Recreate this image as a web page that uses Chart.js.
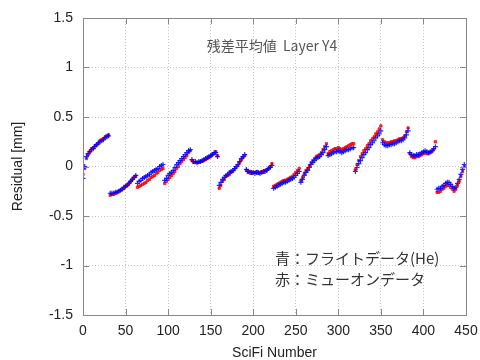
<!DOCTYPE html>
<html lang="ja">
<head>
<meta charset="UTF-8">
<title>残差平均値 Layer Y4</title>
<script src="https://cdn.jsdelivr.net/npm/chart.js"></script>
<style>
  html, body { margin: 0; padding: 0; background: #fff; }
  #wrap { width: 480px; height: 360px; }
</style>
</head>
<body>
<div id="wrap"><canvas id="residualChart" width="480" height="360"></canvas></div>
<script>
// SciFi numbers (every second fibre)
const sciFi = [
  0, 2, 4, 6, 8, 10, 12, 14, 16, 18, 20, 22, 24, 26, 28, 30,
  32, 34, 36, 38, 40, 42, 44, 46, 48, 50, 52, 54, 56, 58, 60, 62,
  64, 66, 68, 70, 72, 74, 76, 78, 80, 82, 84, 86, 88, 90, 92, 94,
  96, 98, 100, 102, 104, 106, 108, 110, 112, 114, 116, 118, 120, 122, 124, 126,
  128, 130, 132, 134, 136, 138, 140, 142, 144, 146, 148, 150, 152, 154, 156, 158,
  160, 162, 164, 166, 168, 170, 172, 174, 176, 178, 180, 182, 184, 186, 188, 190,
  192, 194, 196, 198, 200, 202, 204, 206, 208, 210, 212, 214, 216, 218, 220, 222,
  224, 226, 228, 230, 232, 234, 236, 238, 240, 242, 244, 246, 248, 250, 252, 254,
  256, 258, 260, 262, 264, 266, 268, 270, 272, 274, 276, 278, 280, 282, 284, 286,
  288, 290, 292, 294, 296, 298, 300, 302, 304, 306, 308, 310, 312, 314, 316, 318,
  320, 322, 324, 326, 328, 330, 332, 334, 336, 338, 340, 342, 344, 346, 348, 350,
  352, 354, 356, 358, 360, 362, 364, 366, 368, 370, 372, 374, 376, 378, 380, 382,
  384, 386, 388, 390, 392, 394, 396, 398, 400, 402, 404, 406, 408, 410, 412, 414,
  416, 418, 420, 422, 424, 426, 428, 430, 432, 434, 436, 438, 440, 442, 444, 446,
  448
];

// blue: flight data (He)
const flightHe = [
  -0.12, 0.00, 0.10, 0.13, 0.15, 0.17, 0.18, 0.20, 0.22, 0.24, 0.25, 0.26, 0.27, 0.29, 0.30, 0.31,
  -0.27, -0.27, -0.27, -0.26, -0.26, -0.25, -0.24, -0.23, -0.21, -0.20, -0.19, -0.17, -0.15, -0.13, -0.11, -0.09,
  -0.17, -0.15, -0.14, -0.12, -0.11, -0.10, -0.09, -0.08, -0.06, -0.05, -0.04, -0.03, -0.02, 0.00, 0.01, 0.02,
  -0.14, -0.12, -0.09, -0.07, -0.06, -0.04, -0.01, 0.02, 0.04, 0.06, 0.08, 0.10, 0.12, 0.14, 0.16, 0.17,
  0.07, 0.05, 0.05, 0.04, 0.05, 0.05, 0.06, 0.07, 0.08, 0.09, 0.10, 0.11, 0.12, 0.14, 0.14, 0.10,
  -0.19, -0.16, -0.13, -0.11, -0.09, -0.08, -0.06, -0.05, -0.04, -0.02, 0.00, 0.02, 0.05, 0.08, 0.10, 0.12,
  -0.03, -0.05, -0.06, -0.06, -0.06, -0.07, -0.06, -0.06, -0.07, -0.06, -0.05, -0.05, -0.04, -0.02, -0.01, 0.01,
  -0.22, -0.21, -0.20, -0.19, -0.18, -0.17, -0.16, -0.16, -0.15, -0.14, -0.13, -0.12, -0.11, -0.09, -0.07, -0.05,
  -0.16, -0.13, -0.09, -0.06, -0.04, -0.01, 0.02, 0.04, 0.06, 0.08, 0.09, 0.10, 0.12, 0.14, 0.17, 0.20,
  0.11, 0.12, 0.13, 0.14, 0.15, 0.15, 0.16, 0.15, 0.14, 0.15, 0.16, 0.17, 0.17, 0.18, 0.19, 0.19,
  -0.05, -0.01, 0.03, 0.06, 0.09, 0.12, 0.14, 0.17, 0.19, 0.22, 0.24, 0.26, 0.29, 0.31, 0.33, 0.36,
  0.24, 0.22, 0.21, 0.21, 0.22, 0.22, 0.23, 0.23, 0.24, 0.25, 0.26, 0.26, 0.27, 0.29, 0.32, 0.36,
  0.14, 0.12, 0.11, 0.11, 0.12, 0.12, 0.13, 0.14, 0.15, 0.16, 0.15, 0.14, 0.15, 0.16, 0.18, 0.20,
  -0.23, -0.22, -0.22, -0.20, -0.19, -0.17, -0.16, -0.16, -0.18, -0.20, -0.22, -0.21, -0.17, -0.13, -0.08, -0.03,
  0.02
];

// red: muon data
const muon = [
  -0.08, -0.02, 0.08, 0.12, 0.15, 0.18, 0.19, 0.21, 0.22, 0.23, 0.26, 0.27, 0.28, 0.30, 0.31, 0.32,
  -0.29, -0.28, -0.28, -0.27, -0.26, -0.25, -0.24, -0.23, -0.22, -0.20, -0.19, -0.17, -0.15, -0.13, -0.11, -0.10,
  -0.21, -0.20, -0.19, -0.18, -0.17, -0.16, -0.14, -0.13, -0.11, -0.10, -0.09, -0.07, -0.06, -0.04, -0.03, -0.02,
  -0.17, -0.15, -0.13, -0.11, -0.09, -0.07, -0.05, -0.02, 0.00, 0.03, 0.05, 0.07, 0.09, 0.11, 0.14, 0.16,
  0.06, 0.04, 0.04, 0.04, 0.04, 0.05, 0.05, 0.06, 0.07, 0.08, 0.09, 0.10, 0.12, 0.13, 0.15, 0.11,
  -0.22, -0.19, -0.15, -0.13, -0.10, -0.09, -0.08, -0.06, -0.05, -0.03, -0.01, 0.01, 0.04, 0.07, 0.09, 0.11,
  -0.04, -0.06, -0.05, -0.07, -0.06, -0.06, -0.05, -0.07, -0.06, -0.05, -0.06, -0.04, -0.03, -0.02, 0.00, 0.03,
  -0.20, -0.19, -0.18, -0.17, -0.16, -0.15, -0.14, -0.14, -0.13, -0.12, -0.11, -0.10, -0.08, -0.06, -0.04, -0.02,
  -0.14, -0.11, -0.07, -0.04, -0.02, 0.01, 0.04, 0.06, 0.08, 0.10, 0.11, 0.12, 0.14, 0.17, 0.20, 0.23,
  0.13, 0.15, 0.16, 0.17, 0.18, 0.18, 0.19, 0.18, 0.17, 0.18, 0.19, 0.20, 0.21, 0.22, 0.23, 0.23,
  -0.03, 0.02, 0.06, 0.10, 0.13, 0.16, 0.18, 0.21, 0.23, 0.26, 0.28, 0.30, 0.33, 0.35, 0.38, 0.41,
  0.27, 0.25, 0.24, 0.24, 0.24, 0.25, 0.25, 0.26, 0.26, 0.27, 0.28, 0.28, 0.29, 0.31, 0.35, 0.39,
  0.13, 0.10, 0.09, 0.09, 0.10, 0.10, 0.11, 0.12, 0.13, 0.14, 0.13, 0.13, 0.14, 0.15, 0.17, 0.25,
  -0.26, -0.26, -0.25, -0.23, -0.22, -0.20, -0.19, -0.19, -0.21, -0.23, -0.25, -0.23, -0.19, -0.15, -0.10, -0.05,
  0.00
];

const xTicks = [0, 50, 100, 150, 200, 250, 300, 350, 400, 450];
const yTicks = [-1.5, -1, -0.5, 0, 0.5, 1, 1.5];

const chartTitle = '残差平均値  Layer Y4';
const legendLines = ['青：フライトデータ(He)', '赤：ミューオンデータ'];
const xLabel = 'SciFi Number';
const yLabel = 'Residual [mm]';

function toPoints(ys) {
  return sciFi.map((x, i) => ({ x: x, y: ys[i] }));
}

// gnuplot style: inward ticks on all four sides, texts inside the frame
const framePlugin = {
  id: 'frame',
  afterDraw(chart) {
    const ctx = chart.ctx;
    const area = chart.chartArea;
    const xs = chart.scales.x;
    const ys = chart.scales.y;
    ctx.save();
    ctx.strokeStyle = '#888';
    ctx.lineWidth = 1;
    ctx.strokeRect(area.left + 0.5, area.top + 0.5, area.right - area.left, area.bottom - area.top);
    ctx.beginPath();
    xTicks.forEach((v) => {
      const px = Math.round(xs.getPixelForValue(v)) + 0.5;
      ctx.moveTo(px, area.bottom);
      ctx.lineTo(px, area.bottom - 6);
      ctx.moveTo(px, area.top);
      ctx.lineTo(px, area.top + 6);
    });
    yTicks.forEach((v) => {
      const py = Math.round(ys.getPixelForValue(v)) + 0.5;
      ctx.moveTo(area.left, py);
      ctx.lineTo(area.left + 6, py);
      ctx.moveTo(area.right, py);
      ctx.lineTo(area.right - 6, py);
    });
    ctx.stroke();

    ctx.fillStyle = '#555';
    ctx.font = '14px "Noto Sans CJK JP"';
    ctx.textAlign = 'center';
    ctx.textBaseline = 'middle';
    ctx.fillText(chartTitle, 272, 46);

    ctx.fillStyle = '#333';
    ctx.font = '15px "Noto Sans CJK JP"';
    ctx.textAlign = 'left';
    ctx.fillText(legendLines[0], 275, 258);
    ctx.fillText(legendLines[1], 275, 279);

    ctx.fillStyle = '#222';
    ctx.font = '14px "Liberation Sans"';
    ctx.textAlign = 'center';
    ctx.fillText(xLabel, (area.left + area.right) / 2, 353);
    ctx.translate(18, (area.top + area.bottom) / 2);
    ctx.rotate(-Math.PI / 2);
    ctx.fillText(yLabel, 0, 0);
    ctx.restore();
  }
};

const chart = new Chart(document.getElementById('residualChart'), {
  type: 'scatter',
  data: {
    datasets: [
      {
        label: 'フライトデータ(He)',
        data: toPoints(flightHe),
        pointStyle: 'cross',
        pointRadius: 2.5,
        borderWidth: 1.2,
        borderColor: 'rgba(0, 0, 255, 0.85)',
        backgroundColor: 'rgba(0, 0, 255, 0.85)',
        order: 0
      },
      {
        label: 'ミューオンデータ',
        data: toPoints(muon),
        pointStyle: 'rect',
        pointRadius: 1.6,
        borderWidth: 1,
        borderColor: 'rgba(255, 0, 0, 0.8)',
        backgroundColor: 'rgba(255, 0, 0, 0.8)',
        order: 1
      }
    ]
  },
  options: {
    responsive: false,
    animation: false,
    layout: { padding: { top: 18, right: 14, left: 0, bottom: 0 } },
    plugins: {
      legend: { display: false },
      title: { display: false },
      tooltip: { enabled: false }
    },
    scales: {
      x: {
        type: 'linear',
        min: 0,
        max: 450,
        afterBuildTicks: (scale) => { scale.ticks = xTicks.map((v) => ({ value: v })); },
        afterFit: (scale) => {
          scale.height = 45;
          scale.paddingRight = 0;
          scale.paddingLeft = 0;
        },
        grid: { color: '#c4c4c4', drawTicks: false },
        border: { display: false, dash: [1, 2] },
        ticks: { padding: 8, color: '#222', font: { family: 'Liberation Sans', size: 14 } }
      },
      y: {
        min: -1.5,
        max: 1.5,
        afterBuildTicks: (scale) => { scale.ticks = yTicks.map((v) => ({ value: v })); },
        afterFit: (scale) => {
          scale.width = 83;
          scale.paddingTop = 0;
          scale.paddingBottom = 0;
        },
        grid: { color: '#c4c4c4', drawTicks: false },
        border: { display: false, dash: [1, 2] },
        ticks: {
          padding: 10,
          color: '#222',
          font: { family: 'Liberation Sans', size: 14 },
          callback: (value) => String(value)
        }
      }
    }
  },
  plugins: [framePlugin]
});
</script>
</body>
</html>
